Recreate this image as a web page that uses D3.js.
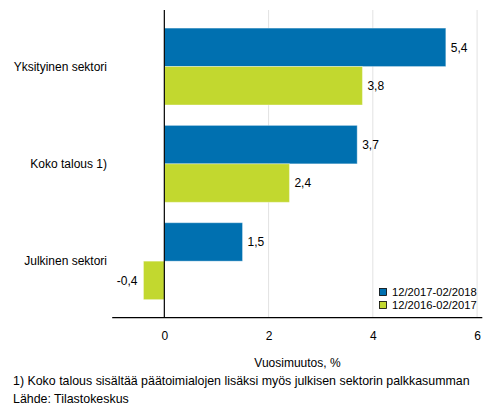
<!DOCTYPE html>
<html><head><meta charset="utf-8">
<script src="https://cdn.jsdelivr.net/npm/d3@7"></script>
<style>
body{margin:0;background:#fff;}
text{font-family:"Liberation Sans",Arial,sans-serif;fill:#000;}
</style></head>
<body>
<svg id="chart" width="493" height="416"></svg>
<script>
const categories = ["Yksityinen sektori", "Koko talous 1)", "Julkinen sektori"];
const seriesNames = ["12/2017-02/2018", "12/2016-02/2017"];
const series2018 = [5.4, 3.7, 1.5];
const series2017 = [3.8, 2.4, -0.4];
const xTicks = [0, 2, 4, 6];
const colors = ["#0070b0", "#c2d82f"];
const axisTitle = "Vuosimuutos, %";
const footnote = "1) Koko talous sisältää päätoimialojen lisäksi myös julkisen sektorin palkkasumman";
const source = "Lähde: Tilastokeskus";

const seriesValues = [series2018, series2017];
const fmt = v => String(v.toFixed(1)).replace(".", ",");

const svg = d3.select("#chart");
const plotTop = 10, plotBottom = 317.7;
const x = d3.scaleLinear().domain([-1, 6.1]).range([112.2, 482.3]);
const y = d3.scaleBand().domain(categories).range([plotTop, plotBottom]).paddingInner(0.21).paddingOuter(0.186);
const y1 = d3.scaleBand().domain(seriesNames).range([0, y.bandwidth()]);

// gridlines
svg.append("g").selectAll("line").data(xTicks.filter(d => d !== 0)).join("line")
  .attr("x1", d => x(d)).attr("x2", d => x(d))
  .attr("y1", plotTop).attr("y2", plotBottom)
  .attr("stroke", "#e2e2e2").attr("stroke-width", 1);

// bars
const groups = svg.append("g").selectAll("g").data(categories).join("g")
  .attr("transform", c => `translate(0,${y(c)})`);
groups.each(function(c, i) {
  const g = d3.select(this);
  seriesNames.forEach((s, j) => {
    const v = seriesValues[j][i];
    g.append("rect")
      .attr("x", x(Math.min(0, v)))
      .attr("width", Math.abs(x(v) - x(0)))
      .attr("y", y1(s))
      .attr("height", y1.bandwidth())
      .attr("fill", colors[j])
      .attr("stroke", "#ffffff").attr("stroke-opacity", 0.35).attr("stroke-width", 1);
    g.append("text")
      .attr("x", v >= 0 ? x(v) + 5 : x(v) - 6)
      .attr("y", y1(s) + y1.bandwidth() / 2)
      .attr("dy", "0.35em")
      .attr("text-anchor", v >= 0 ? "start" : "end")
      .attr("font-size", 12)
      .text(fmt(v));
  });
});

// category labels
svg.append("g").selectAll("text").data(categories).join("text")
  .attr("x", 107).attr("y", c => y(c) + y.bandwidth() / 2)
  .attr("dy", "0.35em").attr("text-anchor", "end").attr("font-size", 12)
  .text(c => c);

// axes lines
svg.append("line").attr("x1", x(0)).attr("x2", x(0)).attr("y1", plotTop).attr("y2", plotBottom)
  .attr("stroke", "#000").attr("stroke-width", 1.2);
svg.append("line").attr("x1", x.range()[0]).attr("x2", x.range()[1]).attr("y1", plotBottom).attr("y2", plotBottom)
  .attr("stroke", "#000").attr("stroke-width", 1.2);

// x tick labels
const xAxis = svg.append("g").attr("transform", `translate(0,${plotBottom})`)
  .call(d3.axisBottom(x).tickValues(xTicks).tickSize(0).tickPadding(14).tickFormat(d => d));
xAxis.select(".domain").remove();
xAxis.selectAll("text").attr("font-size", 12).attr("font-family", "Liberation Sans, Arial, sans-serif").attr("fill", "#000");

svg.append("text").attr("x", 297.5).attr("y", 367).attr("text-anchor", "middle").attr("font-size", 12).text(axisTitle);

// legend
const leg = svg.append("g").selectAll("g").data(seriesNames).join("g")
  .attr("transform", (d, i) => `translate(379,${288 + i * 13})`);
leg.append("rect").attr("x", 0.5).attr("y", 0.5).attr("width", 7).attr("height", 7)
  .attr("fill", (d, i) => colors[i]).attr("stroke", "#000").attr("stroke-width", 0.8);
leg.append("text").attr("x", 13).attr("y", 4).attr("dy", "0.35em").attr("font-size", 11.2).text(d => d);

// footnotes
svg.append("text").attr("x", 13).attr("y", 384.5).attr("font-size", 12.4).text(footnote);
svg.append("text").attr("x", 13).attr("y", 402.5).attr("font-size", 12.4).text(source);
</script>
</body></html>
